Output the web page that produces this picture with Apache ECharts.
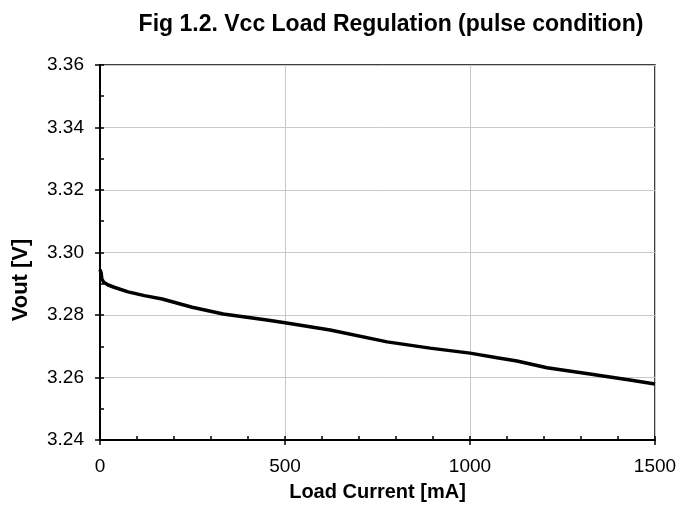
<!DOCTYPE html>
<html>
<head>
<meta charset="utf-8">
<script src="https://cdn.jsdelivr.net/npm/echarts@6/dist/echarts.min.js"></script>
<style>
html,body{margin:0;padding:0;background:#fff}
#chart{width:695px;height:517px}
</style>
</head>
<body>
<div id="chart"></div>
<script>
// load current [mA] and measured Vout [V]
var loadCurrent = [0, 3, 5, 10, 22, 40, 76, 120, 168, 249, 333, 451, 500, 622, 776, 892, 1000, 1073, 1127, 1208, 1324, 1432, 1500]
var vout = [3.2945, 3.2935, 3.2915, 3.2905, 3.2896, 3.2888, 3.2874, 3.2862, 3.2851, 3.2825, 3.2803, 3.2784, 3.2775, 3.2752, 3.2714, 3.2694, 3.2678, 3.2663, 3.2653, 3.2631, 3.2611, 3.2592, 3.2579]
var xTicks = [0, 500, 1000, 1500]
var yTicks = [3.24, 3.26, 3.28, 3.30, 3.32, 3.34, 3.36]

var font = 'Liberation Sans, Arial, sans-serif'
var pts = []
for (var i = 0; i < loadCurrent.length; i++) {
    pts.push([loadCurrent[i], vout[i]])
}

var chartDom = document.getElementById('chart')
var myChart = echarts.init(chartDom)
var option = {
    animation: false,
    title: {
        text: 'Fig 1.2. Vcc Load Regulation (pulse condition)',
        left: 386,
        top: 8,
        textAlign: 'center',
        textStyle: {fontFamily: font, fontSize: 23, fontWeight: 'bold', color: '#000'}
    },
    grid: {
        left: 100, right: 40, top: 65, bottom: 77,
        show: true, borderColor: '#000', borderWidth: 1.5
    },
    xAxis: [{
        type: 'value',
        min: xTicks[0], max: xTicks[xTicks.length - 1], interval: 500,
        name: 'Load Current [mA]',
        nameLocation: 'middle',
        nameGap: 42,
        nameTextStyle: {fontFamily: font, fontSize: 20, fontWeight: 'bold', color: '#000'},
        axisLine: {lineStyle: {color: '#000', width: 2}},
        axisTick: {length: 5, lineStyle: {color: '#000', width: 1.5}},
        axisLabel: {fontFamily: font, fontSize: 19, color: '#000', margin: 17,
            formatter: function (v) { return String(v) }},
        splitLine: {show: true, lineStyle: {color: '#c8c8c8', width: 1}}
    }, {
        type: 'value',
        position: 'bottom',
        min: xTicks[0], max: xTicks[xTicks.length - 1], interval: 100,
        axisLine: {show: false},
        axisTick: {inside: true, length: 4, lineStyle: {color: '#000', width: 1.5}},
        axisLabel: {show: false},
        splitLine: {show: false}
    }],
    yAxis: [{
        type: 'value',
        min: yTicks[0], max: yTicks[yTicks.length - 1], interval: 0.02,
        name: 'Vout [V]',
        nameLocation: 'middle',
        nameGap: 68,
        nameTextStyle: {fontFamily: font, fontSize: 22, fontWeight: 'bold', color: '#000', padding: [0, 55, 0, 0]},
        axisLine: {lineStyle: {color: '#000', width: 2}},
        axisTick: {length: 5, lineStyle: {color: '#000', width: 1.5}},
        axisLabel: {fontFamily: font, fontSize: 19, color: '#000', margin: 16,
            formatter: function (v) { return v.toFixed(2) }},
        splitLine: {show: true, lineStyle: {color: '#c8c8c8', width: 1}}
    }, {
        type: 'value',
        position: 'left',
        min: yTicks[0], max: yTicks[yTicks.length - 1], interval: 0.01,
        axisLine: {show: false},
        axisTick: {inside: true, length: 4, lineStyle: {color: '#000', width: 1.5}},
        axisLabel: {show: false},
        splitLine: {show: false}
    }],
    series: [{
        type: 'line',
        xAxisIndex: 0,
        yAxisIndex: 0,
        data: pts,
        showSymbol: false,
        smooth: false,
        lineStyle: {color: '#000', width: 3.5}
    }]
}
option && myChart.setOption(option)
</script>
</body>
</html>
